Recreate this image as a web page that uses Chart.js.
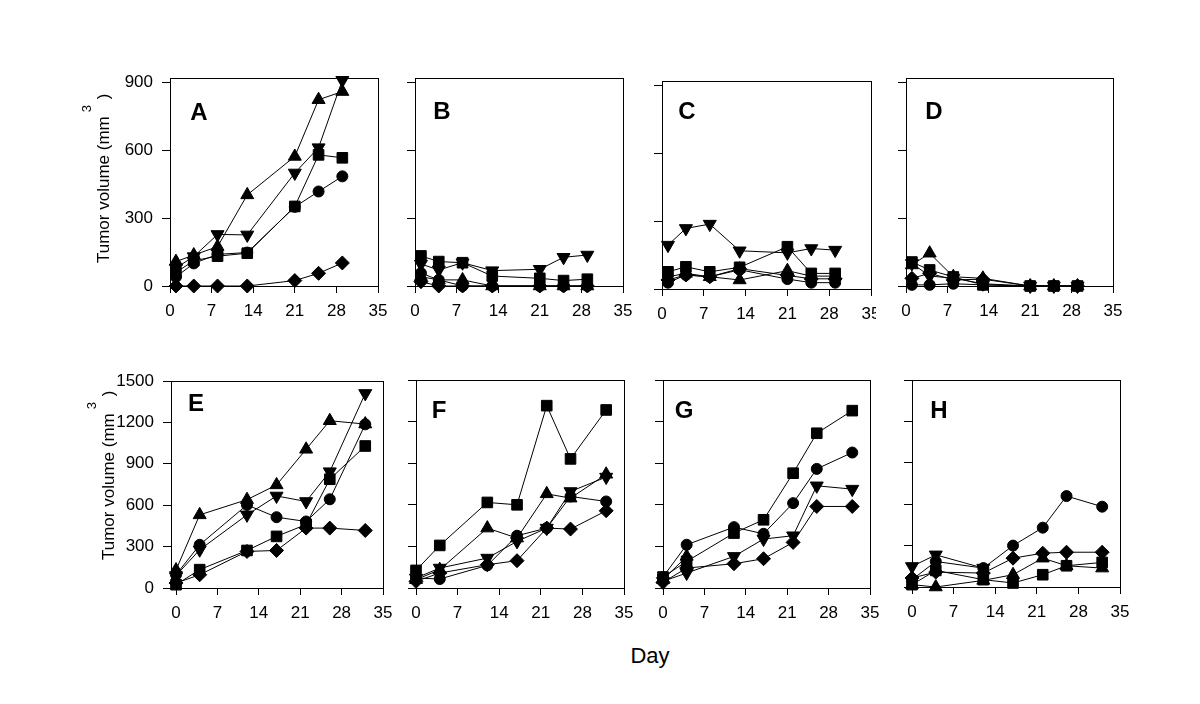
<!DOCTYPE html>
<html>
<head>
<meta charset="utf-8">
<script src="https://cdn.jsdelivr.net/npm/chart.js@4.4.0/dist/chart.umd.min.js"></script>
<style>
body { margin: 0; background: #fff; width: 1200px; height: 704px; position: relative; overflow: hidden;
       font-family: Arial, "Liberation Sans", sans-serif; }
.panel { position: absolute; overflow: hidden; }
#day { position: absolute; left: 600px; width: 100px; top: 644px; line-height: 24px; text-align: center; font-size: 22px; color: #000; }
</style>
</head>
<body>
<div id="day">Day</div>
<script>
// days of measurement
const daysTop = [1, 4, 8, 13, 21, 25, 29];
const daysBottom = [0, 4, 12, 17, 22, 26, 32];
const xTicks = [0, 7, 14, 21, 28, 35];
const yTicksTop = [0, 300, 600, 900];
const yTicksBottom = [0, 300, 600, 900, 1200, 1500];

// one row per animal, same order in every panel
const markers = ['circle', 'square', 'triangle', 'triangleDown', 'diamond'];

const valuesA = [
    [40, 100, 140, 148, 350, 418, 485],
    [60, 112, 132, 145, 352, 580, 567],
    [108, 137, 174, 403, 573, 824, 860],
    [80, 130, 228, 226, 500, 612, 910],
    [0, 0, 0, 0, 24, 56, 102]
];
const valuesB = [
    [57, 27, 0, 0, 0, 0, 0],
    [133, 108, 103, 44, 34, 24, 30],
    [41, 27, 27, 0, 0, 0, 0],
    [97, 71, 103, 68, 74, 127, 137],
    [19, 0, 0, 0, 0, 0, 0]
];
const valuesC = [
    [28, 62, 54, 85, 44, 28, 28],
    [76, 98, 76, 96, 187, 69, 69],
    [54, 69, 54, 40, 81, 57, 57],
    [194, 268, 287, 169, 160, 179, 172],
    [40, 62, 54, 90, 60, 45, 45]
];
const valuesD = [
    [5, 5, 10, 5, 0, 0, 0],
    [106, 71, 40, 5, 0, 0, 0],
    [93, 145, 41, 34, 0, 0, 0],
    [100, 44, 35, 10, 0, 0, 0],
    [34, 56, 27, 30, 0, 0, 0]
];
const valuesE = [
    [96, 313, 602, 513, 482, 643, 1186],
    [24, 133, 272, 374, 460, 788, 1029],
    [130, 530, 640, 747, 1005, 1212, 1188],
    [90, 277, 530, 667, 627, 843, 1410],
    [36, 96, 265, 272, 434, 434, 417]
];
const valuesF = [
    [72, 65, 163, 377, 432, 660, 624],
    [127, 307, 617, 600, 1315, 931, 1284],
    [60, 132, 432, 360, 679, 648, 820],
    [72, 144, 216, 336, 432, 696, 800],
    [48, 108, 168, 197, 432, 425, 557]
];
const valuesG = [
    [79, 312, 439, 391, 612, 859, 977],
    [79, 192, 396, 492, 828, 1116, 1279],
    [60, 228, null, null, null, null, null],
    [48, 108, 228, 353, 377, 737, 713],
    [41, 144, 175, 211, 329, 588, 588]
];
const valuesH = [
    [53, 185, 137, 300, 430, 659, 582],
    [17, 120, 53, 29, 89, 154, 178],
    [17, 0, 48, 89, 209, 154, 137],
    [149, 233, 137, null, null, null, null],
    [65, 108, 101, 209, 245, 252, 252]
];

Chart.defaults.font.family = 'Arial, "Liberation Sans", sans-serif';
Chart.defaults.font.size = 17;
Chart.defaults.color = '#000';

const markerStyle = {
    circle: { pointStyle: 'circle', pointRadius: 5.5, pointRotation: 0 },
    square: { pointStyle: 'rect', pointRadius: 7.5, pointRotation: 0 },
    triangle: { pointStyle: 'triangle', pointRadius: 7.5, pointRotation: 0 },
    triangleDown: { pointStyle: 'triangle', pointRadius: 7.5, pointRotation: 180 },
    diamond: { pointStyle: 'rectRot', pointRadius: 7, pointRotation: 0 }
};

// frame, panel letter and y title
const panelDeco = {
    id: 'panelDeco',
    afterDraw(chart, args, opts) {
        const ctx = chart.ctx;
        const a = chart.chartArea;
        ctx.save();
        ctx.strokeStyle = '#000';
        ctx.lineWidth = 1;
        const l = Math.round(a.left) + 0.5, t = Math.round(a.top) + 0.5;
        ctx.strokeRect(l, t, Math.round(a.right) - Math.round(a.left), Math.round(a.bottom) - Math.round(a.top));

        ctx.fillStyle = '#000';
        ctx.font = 'bold 24px Arial, "Liberation Sans", sans-serif';
        ctx.textAlign = 'center';
        ctx.textBaseline = 'middle';
        ctx.fillText(opts.letter, a.left + opts.letterPos[0], a.top + opts.letterPos[1]);

        if (opts.yTitle) {
            const yt = opts.yTitle;
            ctx.translate(a.left - yt.dx, a.bottom - yt.dy);
            ctx.rotate(-Math.PI / 2);
            ctx.textAlign = 'left';
            ctx.font = '17px Arial, "Liberation Sans", sans-serif';
            const main = 'Tumor volume (mm';
            ctx.fillText(main, 0, 0);
            const w = ctx.measureText(main).width;
            ctx.fillText(')', w + 17, 0);
            ctx.font = '13px Arial, "Liberation Sans", sans-serif';
            ctx.fillText('3', w + 4, -17);
        }
        ctx.restore();
    }
};

const panels = [
    { letter: 'A', days: daysTop, values: valuesA, yTicks: yTicksTop, yMax: 920, xMin: 0, box: [170, 78, 378, 286], letterPos: [29, 35], yTitle: { dx: 66, dy: 23 } },
    { letter: 'B', days: daysTop, values: valuesB, yTicks: yTicksTop, yMax: 920, xMin: 0, box: [415, 78, 623, 286], letterPos: [27, 34] },
    { letter: 'C', days: daysTop, values: valuesC, yTicks: yTicksTop, yMax: 920, xMin: 0, box: [662, 81, 871, 289], letterPos: [25, 31], clipRight: 876 },
    { letter: 'D', days: daysTop, values: valuesD, yTicks: yTicksTop, yMax: 920, xMin: 0, box: [906, 78, 1113, 286], letterPos: [28, 34] },
    { letter: 'E', days: daysBottom, values: valuesE, yTicks: yTicksBottom, yMax: 1500, xMin: -0.85, box: [171, 381, 383, 588], letterPos: [25, 23], yTitle: { dx: 62, dy: 28 } },
    { letter: 'F', days: daysBottom, values: valuesF, yTicks: yTicksBottom, yMax: 1500, xMin: 0, box: [416, 380, 624, 588], letterPos: [23, 31] },
    { letter: 'G', days: daysBottom, values: valuesG, yTicks: yTicksBottom, yMax: 1500, xMin: 0, box: [663, 380, 870, 588], letterPos: [21, 31] },
    { letter: 'H', days: daysBottom, values: valuesH, yTicks: yTicksBottom, yMax: 1500, xMin: 0, box: [912, 380, 1120, 587], letterPos: [27, 31] }
];

function makePanel(p) {
    const mL = p.yTitle ? 110 : 50, mT = 30, mR = 30, mB = 50;
    const [L, T, R, B] = p.box;
    const cw = R - L + mL + mR, ch = B - T + mT + mB;

    const wrap = document.createElement('div');
    wrap.className = 'panel';
    wrap.style.left = (L - mL) + 'px';
    wrap.style.top = (T - mT) + 'px';
    wrap.style.width = (p.clipRight ? p.clipRight - (L - mL) : cw) + 'px';
    wrap.style.height = ch + 'px';
    const canvas = document.createElement('canvas');
    canvas.width = cw;
    canvas.height = ch;
    wrap.appendChild(canvas);
    document.body.appendChild(wrap);

    const datasets = p.values.map((vals, i) => Object.assign({
        data: p.days.map((d, j) => ({ x: d, y: vals[j] })),
        borderColor: '#000',
        borderWidth: 1,
        backgroundColor: '#000',
        pointBackgroundColor: '#000',
        pointBorderColor: '#000',
        pointBorderWidth: 1,
        spanGaps: false,
        clip: false
    }, markerStyle[markers[i]]));

    new Chart(canvas, {
        type: 'line',
        data: { datasets },
        options: {
            responsive: false,
            animation: false,
            events: [],
            layout: { padding: { top: mT, right: mR, left: 0, bottom: 0 } },
            plugins: {
                legend: { display: false },
                tooltip: { enabled: false },
                panelDeco: { letter: p.letter, letterPos: p.letterPos, yTitle: p.yTitle }
            },
            scales: {
                x: {
                    type: 'linear',
                    min: p.xMin,
                    max: 35,
                    afterBuildTicks: s => { s.ticks = xTicks.map(v => ({ value: v })); },
                    afterFit: s => { s.height = mB; },
                    ticks: { autoSkip: false, maxRotation: 0, padding: 8, callback: v => String(v) },
                    grid: { display: true, drawOnChartArea: false, drawTicks: true, tickLength: 7, color: '#000' },
                    border: { display: false }
                },
                y: {
                    type: 'linear',
                    min: 0,
                    max: p.yMax,
                    afterBuildTicks: s => { s.ticks = p.yTicks.map(v => ({ value: v })); },
                    afterFit: s => { s.width = mL; },
                    ticks: { display: !!p.yTitle, padding: 9, callback: v => String(v) },
                    grid: { display: true, drawOnChartArea: false, drawTicks: true, tickLength: 8, color: '#000' },
                    border: { display: false }
                }
            }
        },
        plugins: [panelDeco]
    });
}

panels.forEach(makePanel);
</script>
</body>
</html>
